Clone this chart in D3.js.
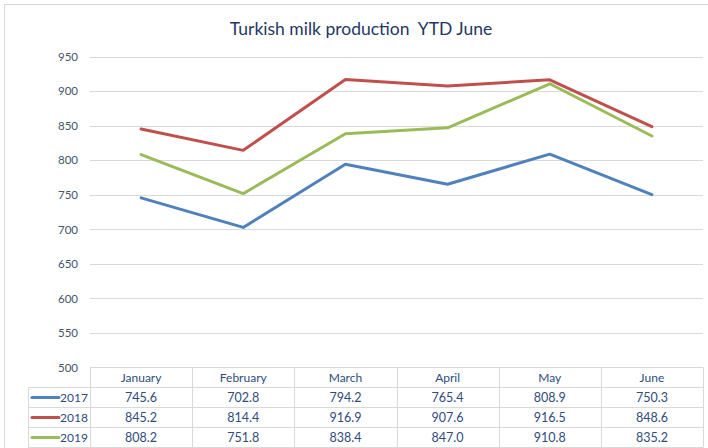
<!DOCTYPE html>
<html><head><meta charset="utf-8">
<script src="https://cdn.jsdelivr.net/npm/d3@7"></script>
<style>html,body{margin:0;padding:0;background:#fff;}svg{display:block;} text{white-space:pre;}</style>
</head><body>
<script>
const months = ["January","February","March","April","May","June"];
const years = ["2017","2018","2019"];
const v2017 = [745.6,702.8,794.2,765.4,808.9,750.3];
const v2018 = [845.2,814.4,916.9,907.6,916.5,848.6];
const v2019 = [808.2,751.8,838.4,847.0,910.8,835.2];
const yTicks = [500,550,600,650,700,750,800,850,900,950];
const title = "Turkish milk production  YTD June";

const seriesVals = [v2017, v2018, v2019];
const colors = ["#4F81BD","#C0504D","#9BBB59"];
const W = 708, H = 448;
const font = "Lato, 'Open Sans', sans-serif";

const svg = d3.select("body").append("svg").attr("width", W).attr("height", H);
svg.append("rect").attr("x",4.5).attr("y",4.5).attr("width",W+10).attr("height",H+10)
  .attr("fill","#fff").attr("stroke","#d9d9d9");

svg.append("text").attr("x",361).attr("y",35).attr("text-anchor","middle")
  .attr("font-family",font).attr("font-size",17.5).attr("fill","#1F3864").text(title);

const x = d3.scaleBand().domain(months).range([90,703]);
const y = d3.scaleLinear().domain([500,950]).range([367.5,56.7]);

// gridlines
svg.append("g").selectAll("line").data(yTicks.slice(1)).join("line")
  .attr("x1",90).attr("x2",703).attr("y1",d=>Math.round(y(d))+0.5).attr("y2",d=>Math.round(y(d))+0.5)
  .attr("stroke","#d9d9d9").attr("stroke-width",1);

// y axis labels
const yAxis = d3.axisLeft(y).tickValues(yTicks).tickSize(0).tickPadding(0);
const ga = svg.append("g").attr("transform","translate(78,0)").call(yAxis);
ga.select(".domain").remove();
ga.selectAll("text").attr("font-family",font).attr("font-size",11.5).attr("fill","#44546A");

// lines
const line = d3.line().x((d,i)=>x(months[i])+x.bandwidth()/2).y(d=>y(d));
seriesVals.forEach((vals,k)=>{
  svg.append("path").datum(vals).attr("d",line).attr("fill","none")
    .attr("stroke",colors[k]).attr("stroke-width",3).attr("stroke-linejoin","round").attr("stroke-linecap","round");
});

// data table
const rowTop = [367.5,387.5,407.5,427.5,447.5];
const tg = svg.append("g");
const gc = "#d9d9d9";
tg.append("line").attr("x1",90).attr("x2",703).attr("y1",rowTop[0]).attr("y2",rowTop[0]).attr("stroke",gc);
rowTop.slice(1).forEach(yy=>{
  tg.append("line").attr("x1",28).attr("x2",703).attr("y1",yy).attr("y2",yy).attr("stroke",gc);
});
tg.append("line").attr("x1",28.5).attr("x2",28.5).attr("y1",rowTop[1]).attr("y2",rowTop[4]).attr("stroke",gc);
months.forEach(m=>{
  const xx = Math.round(x(m))+0.5;
  tg.append("line").attr("x1",xx).attr("x2",xx).attr("y1",rowTop[0]).attr("y2",rowTop[4]).attr("stroke",gc);
});
tg.append("line").attr("x1",703.5).attr("x2",703.5).attr("y1",rowTop[0]).attr("y2",rowTop[4]).attr("stroke",gc);

const tc = "#2F4B7C";
months.forEach(m=>{
  tg.append("text").attr("x",x(m)+x.bandwidth()/2).attr("y",(rowTop[0]+rowTop[1])/2+4)
    .attr("text-anchor","middle").attr("font-family",font).attr("font-size",12).attr("fill",tc).text(m);
});
seriesVals.forEach((vals,k)=>{
  const cy = (rowTop[k+1]+rowTop[k+2])/2;
  tg.append("line").attr("x1",32).attr("x2",59).attr("y1",cy).attr("y2",cy)
    .attr("stroke",colors[k]).attr("stroke-width",3).attr("stroke-linecap","round");
  tg.append("text").attr("x",60).attr("y",cy+4.5).attr("text-anchor","start")
    .attr("font-family",font).attr("font-size",12).attr("fill",tc).text(years[k]);
  vals.forEach((v,i)=>{
    tg.append("text").attr("x",x(months[i])+x.bandwidth()/2).attr("y",cy+4.5)
      .attr("text-anchor","middle").attr("font-family",font).attr("font-size",12.5).attr("fill",tc).text(v.toFixed(1));
  });
});
</script>
</body></html>
